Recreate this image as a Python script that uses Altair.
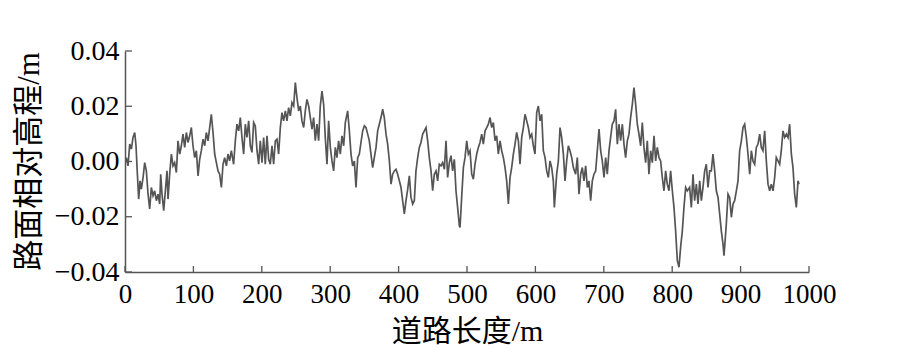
import altair as alt
import pandas as pd

# ---- road profile: distance (m) and relative elevation (mm) ----
dist_a = [0.0, 2.0, 4.4, 6.9, 9.3, 11.7, 14.2, 16.1, 18.1, 20.0, 22.0, 23.9, 26.4, 28.8, 31.2, 33.7, 36.1,
          38.5, 41.0, 43.4, 45.8, 48.3, 50.7, 52.2, 54.1, 56.6, 59.0, 61.4, 62.9, 65.3, 67.8, 70.2, 72.6,
          75.1, 77.5, 80.0, 82.4, 84.8, 87.3, 89.7, 92.1, 94.6, 97.0, 99.4, 101.9, 104.3, 106.8, 109.2,
          111.6, 114.1, 116.5, 118.9, 121.4, 123.8, 126.2, 128.7, 131.1, 133.6, 136.0, 138.4, 140.9,
          143.3, 145.7, 148.2, 150.6, 153.0, 155.5]
elev_a = [-0.4, 1.4, -1.6, 6.3, 4.5, 8.7, 10.5, 5.7, -4.6, -13.6, -7.0, -10.0, -5.8, -0.4, -3.4, -11.8,
          -17.2, -9.4, -12.4, -10.6, -14.2, -11.8, -15.4, -4.6, -11.8, -17.8, -10.6, -3.4, -13.6, -4.6,
          2.7, -1.6, -0.4, -4.0, 7.5, 2.7, 5.7, 9.9, 5.1, 10.5, 6.9, 9.3, 12.3, 5.7, 1.4, 3.9, -5.2, 0.8,
          3.9, 8.1, 5.7, 10.5, 7.5, 12.3, 17.1, 10.5, 2.7, -0.4, -3.4, -4.6, -9.4, -1.0, 1.4, -1.6, 2.7,
          0.2, 3.9]

dist_b = [158.8, 161.3, 163.7, 166.2, 168.6, 171.0, 173.5, 175.9, 178.3, 180.8, 183.2, 185.6, 188.1,
          190.5, 193.0, 195.4, 197.8, 200.3, 202.7, 205.1, 207.6, 210.0, 212.4, 214.9, 217.3, 219.8,
          222.2, 224.6, 227.1, 229.5, 231.9, 234.4, 236.8, 239.2, 241.7, 244.1, 246.6, 249.0, 251.4,
          253.9, 256.3, 258.7, 261.2, 263.6, 266.0, 268.5, 270.9, 273.4, 275.8, 278.2, 280.7, 283.1,
          285.5, 288.0, 290.4, 292.8, 295.3, 297.7, 300.2, 302.6, 305.0, 307.5, 309.9, 312.3, 314.8,
          317.2, 319.7, 322.1]
elev_b = [-1.0, 7.5, 13.5, 11.1, 15.9, 8.7, 2.7, 13.5, 8.7, 14.7, 5.7, 3.3, 14.1, 12.9, 3.9, -1.0, 7.5,
          -0.4, 8.7, -1.0, 9.3, 0.8, -1.0, 5.7, -1.0, 7.5, 8.1, 2.7, 12.3, 17.7, 14.7, 18.3, 14.7, 19.5,
          16.5, 21.3, 20.1, 28.6, 23.1, 18.3, 20.1, 14.7, 12.3, 18.3, 22.5, 20.1, 15.9, 11.7, 15.9, 7.5,
          13.5, 7.5, 20.1, 25.5, 20.7, 8.7, -1.0, 14.7, 5.1, 0.2, -3.4, 5.1, 1.4, 7.5, 2.7, 9.3, 5.7, 14.1]

dist_c = [325.5, 328.0, 330.4, 332.8, 335.3, 337.7, 340.2, 342.6, 345.0, 347.5, 349.9, 352.3, 354.8,
          357.2, 359.6, 362.1, 364.5, 367.0, 369.4, 371.8, 374.3, 376.7, 379.1, 381.6, 384.0, 386.5,
          388.9, 391.3, 393.8, 396.2, 398.6, 401.1, 403.5, 405.9, 408.4, 410.8, 413.3, 415.7, 418.1,
          420.6, 423.0, 425.4, 427.9, 430.3, 432.7, 435.2, 437.6, 440.1, 442.5, 444.9, 447.4, 449.8,
          452.2, 454.7, 457.1, 459.5, 462.0, 464.4, 466.9, 469.3, 471.7, 474.2, 476.6, 479.0, 481.5,
          483.9, 486.3, 488.8]
elev_c = [18.3, 11.1, 2.7, -1.6, 0.2, -9.4, 1.4, 2.7, 6.9, 11.1, 12.9, 12.3, 9.9, 7.5, 2.7, -2.2, 1.4,
          5.1, 11.1, 13.5, 15.9, 18.9, 15.9, 9.9, 6.3, 0.2, -8.2, -4.6, -3.4, -2.8, -4.6, -7.0, -9.4,
          -14.2, -19.0, -14.2, -10.0, -5.2, -13.0, -15.4, -14.2, -3.4, 1.4, 5.1, 6.9, 9.9, 11.1, 12.3,
          7.5, 1.4, -3.4, -10.6, -4.6, -3.4, -7.0, -1.0, -1.6, -0.4, -2.8, 7.5, -5.8, -0.4, 2.1, -3.4,
          0.8, -10.6, -16.6, -23.3]

dist_d = [489.8, 492.2, 494.7, 497.1, 499.6, 502.0, 504.4, 506.9, 509.3, 511.7, 514.2, 516.6, 519.0,
          521.5, 523.9, 526.4, 528.8, 531.2, 533.7, 536.1, 538.5, 541.0, 543.4, 545.8, 548.3, 550.7,
          553.2, 555.6, 558.0, 560.5, 562.9, 565.3, 567.8, 570.2, 572.6, 575.1, 577.5, 580.0, 582.4,
          584.8, 587.3, 589.7, 592.1, 594.6, 597.0, 599.4, 601.9, 604.3, 606.8, 609.2, 611.6, 614.1,
          616.5, 618.9, 621.4, 623.8, 626.2, 627.7, 631.1, 633.6, 636.0, 638.4, 640.9, 643.3, 645.7,
          648.2, 650.6, 653.1, 655.5]
elev_d = [-23.9, -13.0, -2.2, 1.4, 7.5, 2.7, 3.9, -4.6, -6.4, -1.0, 2.7, 5.1, 6.9, 9.9, 6.3, 11.1, 12.3,
          13.5, 15.9, 12.3, 14.1, 7.5, 9.3, 2.7, 7.5, 3.9, 1.4, -2.2, -7.0, -15.4, -5.8, -2.2, 2.7, 6.3,
          10.5, 7.5, -1.0, 8.7, 12.3, 17.1, 14.7, 12.3, 8.7, 9.9, 5.7, 2.7, 17.7, 20.1, 14.7, 17.1, 3.9,
          1.4, -3.4, -5.8, 0.2, -2.2, -7.0, -16.6, -4.6, 0.2, 12.3, 8.7, 2.7, -7.0, 0.2, 5.7, 3.9, 1.4,
          -2.2]

dist_e = [658.8, 661.3, 663.7, 666.2, 668.6, 671.0, 673.5, 675.9, 678.3, 680.8, 683.2, 685.6, 688.1,
          690.5, 693.0, 695.4, 697.8, 700.3, 702.7, 705.1, 707.6, 710.0, 712.4, 714.9, 717.3, 719.8,
          722.2, 724.6, 727.1, 729.5, 731.9, 734.4, 736.8, 739.2, 741.7, 744.1, 746.6, 749.0, 751.4,
          753.9, 756.3, 758.7, 761.2, 763.6, 766.0, 768.5, 770.9, 773.4, 775.8, 778.2, 780.7, 783.1,
          785.5, 788.0, 790.4, 792.8, 795.3, 797.7, 800.2, 802.6, 805.0, 807.5, 809.9, 812.3, 814.8,
          817.2, 819.7, 822.1]
elev_e = [-4.6, 1.4, -11.8, -4.6, -2.2, -7.0, -1.6, -9.4, -7.0, -14.2, -7.0, -4.6, -3.4, 3.9, 11.7, 3.9,
          0.2, -5.8, 1.4, -4.6, 3.9, 8.7, 13.5, 14.7, 18.9, 6.3, 13.5, 7.5, 13.5, 6.3, 1.4, 7.5, 9.9,
          15.9, 20.7, 26.8, 20.7, 13.5, 9.9, 5.7, 14.1, 5.1, -0.4, 7.5, -4.6, 3.9, -0.4, 9.3, 0.2, 5.1,
          1.4, 0.2, -5.8, -10.6, -3.4, -8.2, -10.6, -3.4, -10.6, -16.6, -25.1, -35.9, -38.3, -31.1,
          -25.1, -16.6, -9.4, -10.6]

dist_f = [825.5, 828.0, 830.4, 832.8, 835.3, 837.7, 840.2, 842.6, 845.0, 847.5, 849.9, 852.3, 854.8,
          857.2, 859.6, 862.1, 864.5, 867.0, 869.4, 871.8, 874.3, 875.7, 877.7, 879.1, 881.6, 884.0,
          886.5, 888.9, 891.3, 893.8, 896.2, 898.6, 901.1, 903.5, 905.9, 908.4, 910.8, 913.3, 915.7,
          918.1, 920.6, 923.0, 925.4, 927.9, 930.3, 932.7, 935.2, 937.6, 940.1, 942.5, 944.9, 947.4,
          949.8, 952.2, 954.7, 957.1, 959.5, 962.0, 964.4, 966.9, 969.3, 971.7, 974.2, 976.6, 979.0,
          981.5, 983.9, 985.4]
elev_f = [-9.4, -16.6, -4.6, -14.2, -8.2, -15.4, -7.0, -14.2, -9.4, -3.4, -1.0, -9.4, -3.4, -3.4, 2.7,
          -3.4, -10.6, -13.0, -19.0, -25.1, -29.9, -34.1, -27.5, -22.7, -11.8, -13.0, -20.2, -15.4,
          -14.2, -10.6, -7.0, 3.9, 7.5, 12.3, 13.5, 8.7, 2.7, -4.6, 3.9, 0.2, -1.0, 5.1, 6.3, 9.9, 5.1,
          3.9, 11.1, 0.2, -8.2, -10.6, -8.2, -10.6, -5.8, 1.4, 0.2, -1.0, 3.9, 11.1, 8.7, 9.9, 8.7,
          13.5, 2.7, -2.2, -11.8, -16.6, -7.0, -8.2]

x_tick_values = [0, 100, 200, 300, 400, 500, 600, 700, 800, 900, 1000]
y_tick_values = [-0.04, -0.02, 0.0, 0.02, 0.04]

dist = dist_a + dist_b + dist_c + dist_d + dist_e + dist_f
elev_mm = elev_a + elev_b + elev_c + elev_d + elev_e + elev_f
n = min(len(dist), len(elev_mm))
profile = pd.DataFrame({"d": dist[:n], "h": [v / 1000.0 for v in elev_mm[:n]]})

W, H = 684, 221
FONT = "Liberation Serif, Times New Roman, Noto Sans CJK SC"
AX = "#555555"

x_scale = alt.Scale(domain=[0, 1000], nice=False, zero=False)
y_scale = alt.Scale(domain=[-0.04, 0.04], nice=False, zero=False)

x_axis = alt.Axis(values=x_tick_values, format="d", title="道路长度/m",
                  ticks=False, grid=False, domainColor=AX, domainWidth=1.5,
                  labelFont=FONT, labelFontSize=27, labelColor="black", labelPadding=9,
                  labelFlush=False, labelOverlap=False,
                  titleFont=FONT, titleFontSize=30, titleFontWeight="normal",
                  titleColor="black", titleBaseline="middle", titleY=59)
y_axis = alt.Axis(values=y_tick_values, format=".2f", title="路面相对高程/m",
                  ticks=False, grid=False, domainColor=AX, domainWidth=1.5,
                  labelFont=FONT, labelFontSize=28, labelColor="black", labelPadding=6,
                  labelFlush=False, labelOverlap=False,
                  titleFont=FONT, titleFontSize=31, titleFontWeight="normal",
                  titleColor="black", titleAngle=-90, titleBaseline="middle",
                  titleX=-96, titleY=110)

line = alt.Chart(profile).mark_line(color="#555555", strokeWidth=1.7, clip=True).encode(
    x=alt.X("d:Q", scale=x_scale, axis=x_axis, title="道路长度/m"),
    y=alt.Y("h:Q", scale=y_scale, axis=y_axis, title="路面相对高程/m"),
)

xt = alt.Chart(pd.DataFrame({"t": x_tick_values})).mark_rule(color=AX, strokeWidth=1.3).encode(
    x=alt.X("t:Q", scale=x_scale, axis=x_axis, title="道路长度/m"),
    y=alt.value(H),
    y2=alt.value(H - 6),
)
yt = alt.Chart(pd.DataFrame({"t": y_tick_values})).mark_rule(color=AX, strokeWidth=1.3).encode(
    y=alt.Y("t:Q", scale=y_scale, axis=y_axis, title="路面相对高程/m"),
    x=alt.value(0),
    x2=alt.value(7),
)

chart = alt.layer(line, xt, yt).properties(
    width=W, height=H,
    autosize=alt.AutoSizeParams(type="none"),
    padding={"left": 125, "top": 51, "right": 93, "bottom": 89},
    background="white",
).configure_view(stroke=None)

chart.save("out.html", embed_options={"renderer": "svg", "actions": False})
